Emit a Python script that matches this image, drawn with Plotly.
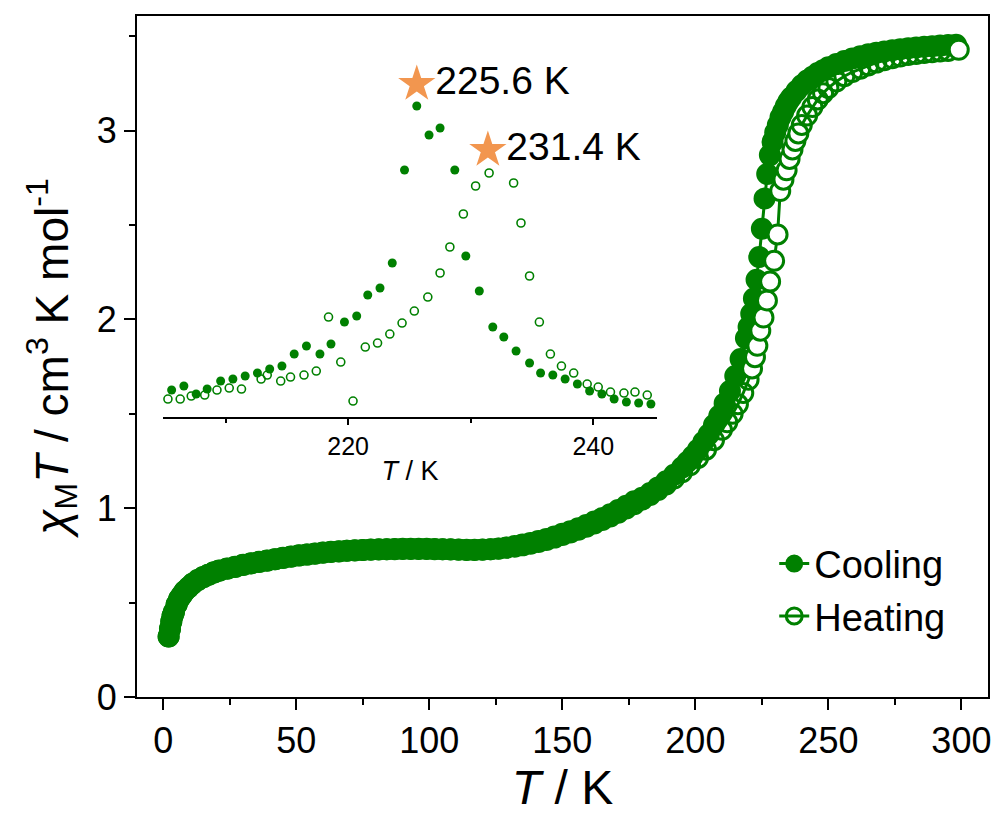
import plotly.graph_objects as go

GREEN = "#008000"
ORANGE = "#F2964F"
FONT = "Liberation Sans, Arial, sans-serif"

# ---- main data: chi_M T vs T ----
cool_T = [2, 2.5, 3, 3.5, 4, 5, 6, 7, 8, 9.5, 11, 13, 15, 17, 19, 21, 24, 27, 30, 33, 36, 39, 42, 45,
          48, 51, 54, 57, 60, 63, 66, 69, 72, 75, 78, 81, 84, 87, 90, 93, 96, 99, 102, 105, 108, 111,
          114, 117, 120, 123, 126, 129, 132, 135, 138, 141, 144, 147, 150, 153, 156, 159, 162, 165,
          168, 171, 174, 177, 180, 183, 186, 189, 192, 195, 197, 199, 201, 203, 205, 207, 209, 211,
          213, 215, 217, 219, 220, 221, 222, 223, 224, 225, 226, 227, 228, 229, 230, 231, 232, 233,
          234, 235, 236, 238, 240, 242, 244, 246, 248, 250, 253, 256, 259, 262, 265, 268, 271, 274,
          277, 280, 283, 286, 289, 292, 295, 298]
cool_chiT = [0.32, 0.36, 0.40, 0.43, 0.45, 0.49, 0.52, 0.54, 0.56, 0.58, 0.60, 0.62, 0.635, 0.648,
             0.66, 0.67, 0.68, 0.69, 0.70, 0.708, 0.716, 0.723, 0.73, 0.737, 0.744, 0.75, 0.755, 0.76,
             0.765, 0.769, 0.772, 0.775, 0.777, 0.779, 0.781, 0.782, 0.783, 0.784, 0.785, 0.785, 0.785,
             0.785, 0.784, 0.783, 0.782, 0.781, 0.780, 0.780, 0.781, 0.783, 0.787, 0.792, 0.799, 0.807,
             0.816, 0.826, 0.837, 0.85, 0.864, 0.878, 0.894, 0.911, 0.929, 0.948, 0.968, 0.99, 1.013,
             1.037, 1.055, 1.08, 1.11, 1.142, 1.177, 1.215, 1.245, 1.275, 1.31, 1.35, 1.39, 1.44,
             1.49, 1.555, 1.62, 1.70, 1.79, 1.90, 1.96, 2.03, 2.11, 2.21, 2.33, 2.48, 2.64, 2.77,
             2.87, 2.94, 2.99, 3.03, 3.07, 3.10, 3.13, 3.155, 3.175, 3.21, 3.24, 3.265, 3.285, 3.305,
             3.32, 3.335, 3.352, 3.368, 3.382, 3.394, 3.404, 3.412, 3.419, 3.425, 3.431, 3.436, 3.44,
             3.444, 3.447, 3.45, 3.453, 3.455]

heat_T = [2, 2.5, 3, 3.5, 4, 5, 6, 7, 8, 9.5, 11, 13, 15, 17, 19, 21, 24, 27, 30, 33, 36, 39, 42, 45,
          48, 51, 54, 57, 60, 63, 66, 69, 72, 75, 78, 81, 84, 87, 90, 93, 96, 99, 102, 105, 108, 111,
          114, 117, 120, 123, 126, 129, 132, 135, 138, 141, 144, 147, 150, 153, 156, 159, 162, 165,
          168, 171, 174, 177, 180, 183, 186, 189, 192, 195, 198, 201, 204, 207, 210, 212, 214, 216,
          218, 220, 221.3, 222.4, 223.3, 224.4, 225.6, 226.9, 228.1, 229.6, 230.9, 231.9, 233.1,
          234.3, 235.4, 236.5, 237.6, 238.7, 240, 242, 244, 246, 248, 250, 253, 256, 259, 262, 265,
          268, 271, 274, 277, 280, 283, 286, 289, 292, 295, 299]
heat_chiT = [0.32, 0.36, 0.40, 0.43, 0.45, 0.49, 0.52, 0.54, 0.56, 0.58, 0.60, 0.62, 0.634, 0.647,
             0.659, 0.669, 0.679, 0.689, 0.699, 0.707, 0.715, 0.722, 0.729, 0.736, 0.743, 0.749,
             0.754, 0.759, 0.764, 0.768, 0.771, 0.774, 0.776, 0.778, 0.78, 0.781, 0.782, 0.783,
             0.784, 0.784, 0.784, 0.784, 0.783, 0.782, 0.781, 0.780, 0.779, 0.779, 0.780, 0.782,
             0.785, 0.790, 0.796, 0.803, 0.812, 0.821, 0.832, 0.844, 0.858, 0.871, 0.886, 0.902,
             0.919, 0.937, 0.956, 0.976, 0.998, 1.021, 1.045, 1.07, 1.097, 1.126, 1.157, 1.19,
             1.227, 1.266, 1.31, 1.36, 1.415, 1.455, 1.50, 1.55, 1.61, 1.68, 1.74, 1.80, 1.86, 1.94,
             2.01, 2.10, 2.20, 2.31, 2.45, 2.68, 2.74, 2.79, 2.85, 2.90, 2.945, 2.985, 3.03, 3.08,
             3.125, 3.165, 3.198, 3.226, 3.26, 3.288, 3.31, 3.328, 3.345, 3.36, 3.372, 3.383, 3.392,
             3.40, 3.406, 3.411, 3.415, 3.419, 3.422, 3.428]

# ---- inset data: derivative (arb. units) vs T ----
ins_cool_T = [205.6, 206.6, 207.6, 208.5, 209.6, 210.6, 211.6, 212.6, 213.6, 214.6, 215.6, 216.6,
              217.7, 218.6, 219.7, 220.7, 221.6, 222.6, 223.6, 224.6, 225.6, 226.6, 227.5, 228.7,
              229.6, 230.7, 231.8, 232.7, 233.7, 234.8, 235.7, 236.7, 237.7, 238.7, 239.7, 240.7,
              241.7, 242.7, 243.7, 244.7]
ins_cool_d = [0.027, 0.031, 0.023, 0.028, 0.036, 0.038, 0.041, 0.044, 0.048, 0.051, 0.063, 0.071,
              0.063, 0.073, 0.095, 0.101, 0.122, 0.129, 0.154, 0.247, 0.311, 0.282, 0.289, 0.247,
              0.161, 0.126, 0.090, 0.080, 0.066, 0.054, 0.044, 0.042, 0.038, 0.033, 0.026, 0.023,
              0.018, 0.015, 0.014, 0.013]
ins_heat_T = [205.3, 206.3, 207.2, 208.3, 209.3, 210.3, 211.3, 212.9, 213.4, 214.5, 215.3, 216.4,
              217.4, 218.4, 219.4, 220.4, 221.4, 222.4, 223.4, 224.4, 225.4, 226.5, 227.5, 228.3,
              229.4, 230.4, 231.5, 233.5, 234.1, 234.8, 235.6, 236.5, 237.4, 238.4, 239.5, 240.4,
              241.4, 242.5, 243.4, 244.4]
ins_heat_d = [0.018, 0.018, 0.021, 0.022, 0.027, 0.029, 0.028, 0.038, 0.042, 0.036, 0.040, 0.042,
              0.046, 0.100, 0.055, 0.016, 0.070, 0.074, 0.083, 0.094, 0.106, 0.120, 0.144, 0.170,
              0.203, 0.231, 0.244, 0.234, 0.194, 0.141, 0.095, 0.063, 0.051, 0.044, 0.033, 0.030,
              0.025, 0.024, 0.025, 0.022]

peak_T = [225.6, 231.4]
peak_d = [0.333, 0.267]
peak_labels = ["225.6 K", "231.4 K"]

# open-circle fill: white where the heating circles stand clear of the cooling band
heat_fill = ["white" if (221 <= t <= 239 or t >= 299) else "rgba(255,255,255,0)" for t in heat_T]

fig = go.Figure()

fig.add_trace(go.Scatter(
    x=cool_T, y=cool_chiT, name="Cooling", mode="lines+markers",
    line=dict(color=GREEN, width=3),
    marker=dict(symbol="circle", size=20, color=GREEN, line=dict(color=GREEN, width=2)),
    xaxis="x", yaxis="y"))
fig.add_trace(go.Scatter(
    x=heat_T, y=heat_chiT, name="Heating", mode="lines+markers",
    line=dict(color=GREEN, width=3),
    marker=dict(symbol="circle", size=19, color=heat_fill, line=dict(color=GREEN, width=3)),
    xaxis="x", yaxis="y"))

fig.add_trace(go.Scatter(
    x=ins_cool_T, y=ins_cool_d, mode="markers", showlegend=False,
    marker=dict(symbol="circle", size=9, color=GREEN, line=dict(width=0)),
    xaxis="x2", yaxis="y2"))
fig.add_trace(go.Scatter(
    x=ins_heat_T, y=ins_heat_d, mode="markers", showlegend=False,
    marker=dict(symbol="circle-open", size=8, color=GREEN, line=dict(color=GREEN, width=1.6)),
    xaxis="x2", yaxis="y2"))
fig.add_trace(go.Scatter(
    x=peak_T, y=peak_d, mode="markers+text", showlegend=False,
    text=peak_labels, textposition="middle right",
    textfont=dict(family=FONT, size=39, color="black"),
    marker=dict(symbol="star", size=28, color=ORANGE, line=dict(width=0)),
    xaxis="x2", yaxis="y2"))

axis_common = dict(showgrid=False, zeroline=False, showline=True, linecolor="black",
                   ticks="outside", tickcolor="black", automargin=False)

fig.update_layout(
    width=999, height=819,
    margin=dict(l=0, r=0, t=0, b=0, autoexpand=False),
    paper_bgcolor="white", plot_bgcolor="rgba(0,0,0,0)",
    font=dict(family=FONT, color="black"),
    showlegend=True,
    legend=dict(x=0.775, y=0.35, xanchor="left", yanchor="top",
                font=dict(family=FONT, size=38), bgcolor="rgba(0,0,0,0)",
                itemsizing="trace"),
    xaxis=dict(axis_common, domain=[0.1371, 0.989], range=[-9.9, 310],
               tickvals=[0, 50, 100, 150, 200, 250, 300], ticklen=11, tickwidth=2,
               linewidth=2, mirror=True,
               minor=dict(dtick=25, tick0=0, ticks="outside", ticklen=6, tickwidth=2, tickcolor="black"),
               tickfont=dict(size=36),
               title=dict(text="<i>T</i> / K", font=dict(size=48), standoff=10),
               anchor="y"),
    yaxis=dict(axis_common, domain=[0.149, 0.9805], range=[0, 3.607],
               tickvals=[0, 1, 2, 3], ticklen=11, tickwidth=2,
               linewidth=2, mirror=True,
               minor=dict(dtick=0.5, tick0=0, ticks="outside", ticklen=6, tickwidth=2, tickcolor="black"),
               tickfont=dict(size=36),
               title=dict(text="<i>χ</i><sub>M</sub><i>T</i> / cm<sup>3</sup> K mol<sup>-1</sup>",
                          font=dict(size=46), standoff=14),
               anchor="x"),
    xaxis2=dict(axis_common, domain=[0.1632, 0.6577], range=[204.9, 245.2],
                tickvals=[220, 240], ticklen=6, tickwidth=1.5, linewidth=1.5,
                minor=dict(dtick=10, tick0=200, ticks="outside", ticklen=4, tickwidth=1.5, tickcolor="black"),
                tickfont=dict(size=25), ticklabelstandoff=0,
                title=dict(text="<i>T</i> / K", font=dict(size=27), standoff=2),
                anchor="y2"),
    yaxis2=dict(domain=[0.4908, 0.9805], range=[0, 0.401], visible=False, anchor="x2"),
)

fig.write_html("out.html")
